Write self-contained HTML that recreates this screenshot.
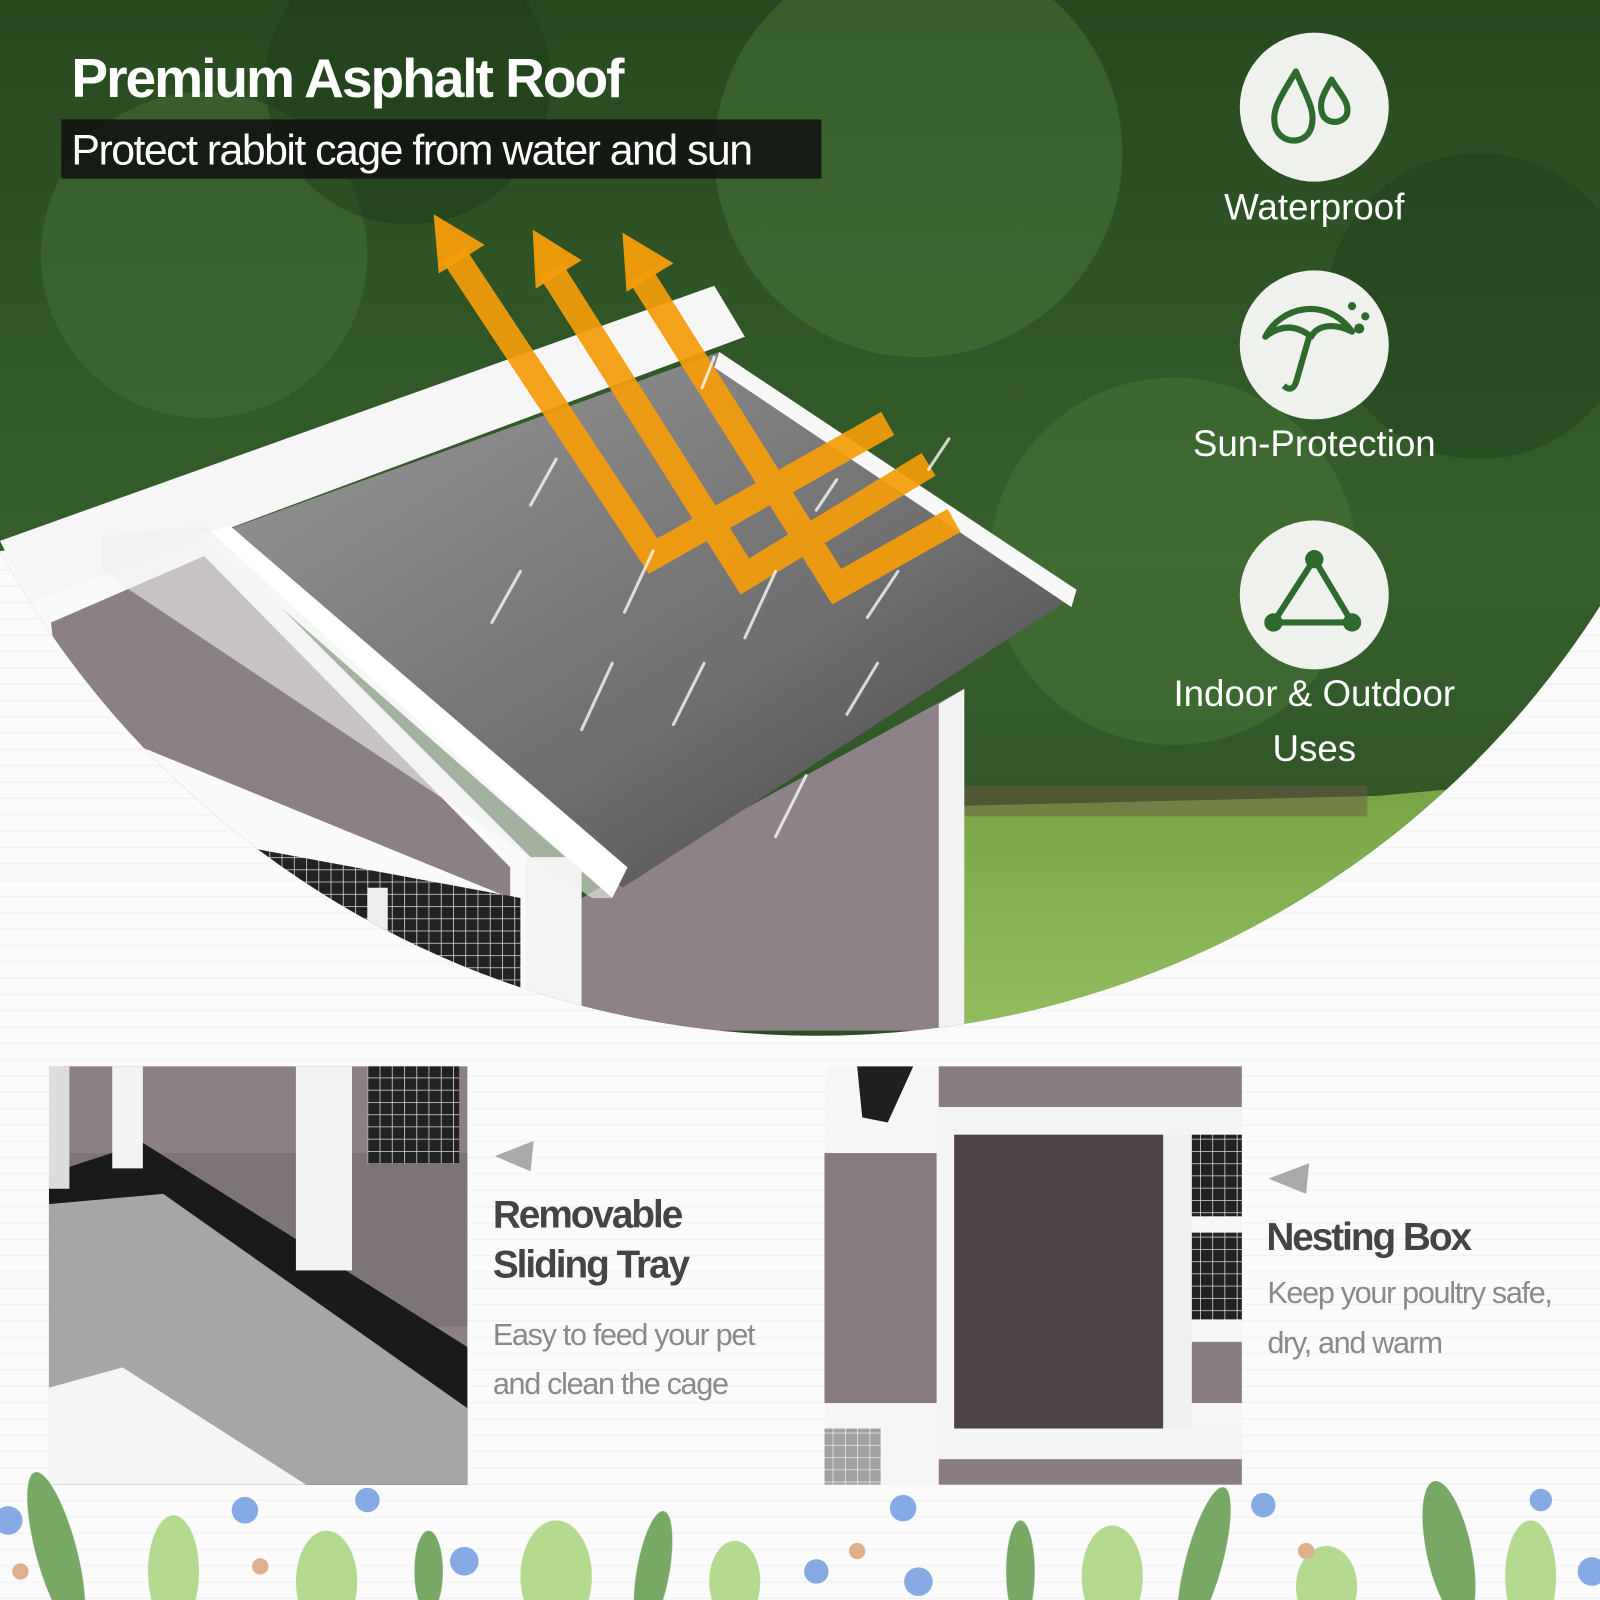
<!DOCTYPE html>
<html><head><meta charset="utf-8"><style>
html,body{margin:0;padding:0;width:1600px;height:1600px;overflow:hidden;background:#fbfbfb}
svg{display:block}
text{font-family:"Liberation Sans",sans-serif}
</style></head><body>
<svg width="1600" height="1600" viewBox="0 0 1568 1568" xmlns="http://www.w3.org/2000/svg">
<defs>
<linearGradient id="forest" x1="0" y1="0" x2="0" y2="1">
<stop offset="0" stop-color="#27491f"/><stop offset="0.5" stop-color="#365f2c"/><stop offset="1" stop-color="#2a4a22"/>
</linearGradient>
<linearGradient id="roof" x1="0" y1="0" x2="1" y2="1">
<stop offset="0" stop-color="#9a9a9a"/><stop offset="0.6" stop-color="#6e6e6e"/><stop offset="1" stop-color="#444"/>
</linearGradient>
<linearGradient id="grass" x1="0" y1="0" x2="0" y2="1">
<stop offset="0" stop-color="#76a444"/><stop offset="1" stop-color="#9cc76a"/>
</linearGradient>
<clipPath id="circ"><circle cx="800" cy="104" r="911"/></clipPath>
<pattern id="lines" width="10" height="16" patternUnits="userSpaceOnUse"><rect width="10" height="16" fill="#fbfbfb"/><rect y="14" width="10" height="1" fill="#f0f0f0"/></pattern>
<pattern id="mesh" width="12" height="12" patternUnits="userSpaceOnUse"><rect width="12" height="12" fill="#222"/><path d="M0 0H12M0 0V12" stroke="#ddd" stroke-width="1.5"/></pattern>
</defs>
<rect width="1568" height="1568" fill="url(#lines)"/>
<g clip-path="url(#circ)">
<rect width="1568" height="1100" fill="url(#forest)"/>
<circle cx="200" cy="250" r="160" fill="#477437" opacity="0.45"/>
<circle cx="900" cy="150" r="200" fill="#4f7f3c" opacity="0.4"/>
<circle cx="1150" cy="550" r="180" fill="#4a7a38" opacity="0.45"/>
<circle cx="400" cy="80" r="140" fill="#1d3b19" opacity="0.5"/>
<circle cx="1450" cy="300" r="150" fill="#1f3d1b" opacity="0.4"/>
<polygon points="930,790 1350,780 1568,760 1568,1100 930,1100" fill="url(#grass)"/>
<rect x="940" y="770" width="400" height="30" fill="#6b5a40" opacity="0.5"/>
<polygon points="0,540 200,520 520,840 520,1100 0,1100" fill="#fafafa"/>
<polygon points="50,610 200,545 500,850 500,880 60,700" fill="#8a8085"/>
<polygon points="240,830 510,880 510,990 240,900" fill="url(#mesh)"/>
<rect x="360" y="870" width="20" height="120" fill="#eee"/>
<polygon points="570,880 945,675 945,1010 570,1010" fill="#8d8287"/>
<polygon points="920,690 945,675 945,1010 920,1010" fill="#f2f2f2"/>
<rect x="515" y="840" width="55" height="170" fill="#f4f4f4"/>
<polygon points="0,530 700,280 730,330 30,590" fill="#f6f6f6"/>
<polygon points="220,520 705,345 1052,585 610,870" fill="url(#roof)"/>
<polygon points="705,345 1055,578 1050,595 700,360" fill="#f8f8f8"/>
<polygon points="195,525 225,515 615,850 600,880" fill="#ffffff"/>
<polygon points="100,525 200,515 600,880 580,880 100,560" fill="#f0f0f0" opacity="0.6"/>
<g stroke="#f59d0a" stroke-width="26" fill="none" opacity="0.92" stroke-linejoin="miter">
<polyline points="445,250 640,545 870,415"/>
<polyline points="540,265 730,565 910,455"/>
<polyline points="628,270 820,575 935,510"/>
</g>
<g fill="#f59d0a" opacity="0.95">
<polygon points="425,210 475,240 430,268"/>
<polygon points="522,225 570,255 525,283"/>
<polygon points="610,228 660,258 614,286"/>
</g>
<g stroke="#ffffff" stroke-width="3" opacity="0.75" stroke-linecap="round">
<line x1="545" y1="450" x2="520" y2="495"/><line x1="510" y1="560" x2="482" y2="610"/>
<line x1="640" y1="540" x2="612" y2="600"/><line x1="760" y1="560" x2="730" y2="625"/>
<line x1="600" y1="650" x2="570" y2="715"/><line x1="690" y1="650" x2="660" y2="710"/>
<line x1="860" y1="650" x2="830" y2="700"/><line x1="880" y1="560" x2="850" y2="605"/>
<line x1="790" y1="760" x2="760" y2="820"/><line x1="700" y1="350" x2="688" y2="380"/>
<line x1="930" y1="430" x2="910" y2="460"/><line x1="820" y1="470" x2="800" y2="500"/>
</g>
<g fill="#eef1ec">
<circle cx="1288" cy="105" r="73"/><circle cx="1288" cy="338" r="73"/><circle cx="1288" cy="583" r="73"/>
</g>
<g fill="none" stroke="#2e6a2e" stroke-width="6" stroke-linejoin="round">
<path d="M1270 70 C1255 95 1245 108 1250 125 C1256 142 1280 142 1285 125 C1290 108 1280 95 1270 70Z"/>
<path d="M1305 78 C1297 92 1292 100 1296 112 C1300 122 1316 122 1320 112 C1323 100 1313 92 1305 78Z"/>
<path d="M1240 330 C1255 300 1300 290 1325 325 C1305 315 1290 320 1285 330 C1270 318 1255 318 1240 330Z"/>
<path d="M1283 330 L1270 375 Q1266 385 1258 378"/>
<path d="M1288 548 L1248 610 L1325 610 Z"/>
</g>
<g fill="#2e6a2e"><circle cx="1288" cy="548" r="9"/><circle cx="1248" cy="610" r="9"/><circle cx="1325" cy="610" r="9"/>
<circle cx="1325" cy="300" r="4"/><circle cx="1338" cy="310" r="4"/><circle cx="1332" cy="322" r="5"/></g>
<g fill="#fff" font-size="36" text-anchor="middle">
<text x="1288" y="215">Waterproof</text>
<text x="1288" y="447">Sun-Protection</text>
<text x="1288" y="692">Indoor &amp; Outdoor</text>
<text x="1288" y="746">Uses</text>
</g>
</g>
<text x="70" y="95" font-size="54" font-weight="bold" fill="#fff" letter-spacing="-2">Premium Asphalt Roof</text>
<rect x="60" y="117" width="745" height="58" fill="#111" opacity="0.85"/>
<text x="70" y="161" font-size="42" fill="#fff" letter-spacing="-1.5">Protect rabbit cage from water and sun</text>
<g>
<rect x="48" y="1045" width="410" height="410" rx="8" fill="#eee"/>
<rect x="60" y="1045" width="398" height="410" fill="#8a8086"/>
<polygon points="48,1130 458,1130 458,1300 48,1300" fill="#7d7479"/>
<polygon points="48,1150 140,1120 458,1320 458,1455 48,1455" fill="#1a1a1a"/>
<polygon points="48,1180 160,1170 458,1380 458,1455 48,1455" fill="#a6a6a6"/>
<polygon points="48,1360 120,1340 300,1455 48,1455" fill="#f5f5f5"/>
<rect x="110" y="1045" width="30" height="100" fill="#f3f3f3"/>
<rect x="290" y="1045" width="55" height="200" fill="#f3f3f3"/>
<rect x="360" y="1045" width="90" height="95" fill="url(#mesh)"/>
<rect x="48" y="1045" width="20" height="120" fill="#ddd"/>
</g>
<polygon points="485,1133 523,1118 520,1148" fill="#aaa"/>
<text x="483" y="1203" font-size="38" font-weight="bold" fill="#444" letter-spacing="-2">Removable</text>
<text x="483" y="1252" font-size="38" font-weight="bold" fill="#444" letter-spacing="-2">Sliding Tray</text>
<text x="483" y="1318" font-size="30" fill="#8a8a8a" letter-spacing="-1.3">Easy to feed your pet</text>
<text x="483" y="1366" font-size="30" fill="#8a8a8a" letter-spacing="-1.3">and clean the cage</text>
<g>
<rect x="808" y="1045" width="409" height="410" rx="8" fill="#f6f6f6"/>
<rect x="920" y="1045" width="297" height="40" fill="#877d82"/>
<rect x="920" y="1085" width="297" height="25" fill="#f4f4f4"/>
<rect x="808" y="1130" width="110" height="245" fill="#857b80"/>
<rect x="935" y="1112" width="205" height="288" fill="#4a4245"/>
<rect x="918" y="1112" width="17" height="300" fill="#f4f4f4"/>
<rect x="1140" y="1112" width="28" height="300" fill="#f0f0f0"/>
<rect x="1168" y="1112" width="49" height="80" fill="url(#mesh)"/>
<rect x="1168" y="1208" width="49" height="85" fill="url(#mesh)"/>
<rect x="1168" y="1315" width="49" height="60" fill="#877d82"/>
<rect x="920" y="1400" width="297" height="30" fill="#f4f4f4"/>
<rect x="920" y="1430" width="297" height="25" fill="#877d82"/>
<polygon points="840,1045 895,1045 870,1100 845,1095" fill="#1f1f1f"/>
<rect x="808" y="1400" width="55" height="55" fill="url(#mesh)" opacity="0.4"/>
</g>
<polygon points="1243,1155 1283,1140 1280,1170" fill="#aaa"/>
<text x="1241" y="1225" font-size="38" font-weight="bold" fill="#444" letter-spacing="-2">Nesting Box</text>
<text x="1242" y="1277" font-size="30" fill="#8a8a8a" letter-spacing="-1.3">Keep your poultry safe,</text>
<text x="1242" y="1326" font-size="30" fill="#8a8a8a" letter-spacing="-1.3">dry, and warm</text>
<g opacity="0.85">
<g fill="#5f9a4a">
<ellipse cx="55" cy="1520" rx="20" ry="80" transform="rotate(-15 55 1520)"/>
<ellipse cx="420" cy="1540" rx="14" ry="40"/>
<ellipse cx="640" cy="1540" rx="16" ry="60" transform="rotate(10 640 1540)"/>
<ellipse cx="1180" cy="1530" rx="18" ry="75" transform="rotate(15 1180 1530)"/>
<ellipse cx="1420" cy="1520" rx="22" ry="70" transform="rotate(-12 1420 1520)"/>
<ellipse cx="1000" cy="1540" rx="14" ry="50"/>
</g>
<g fill="#a6d47a">
<ellipse cx="170" cy="1540" rx="25" ry="55"/>
<ellipse cx="320" cy="1550" rx="30" ry="50"/>
<ellipse cx="545" cy="1545" rx="35" ry="55"/>
<ellipse cx="720" cy="1550" rx="25" ry="40"/>
<ellipse cx="1090" cy="1545" rx="30" ry="50"/>
<ellipse cx="1300" cy="1555" rx="30" ry="40"/>
<ellipse cx="1500" cy="1545" rx="25" ry="55"/>
</g>
<g fill="#6f9be0">
<circle cx="8" cy="1490" r="14"/><circle cx="240" cy="1480" r="13"/><circle cx="360" cy="1470" r="12"/>
<circle cx="455" cy="1530" r="14"/><circle cx="885" cy="1478" r="13"/><circle cx="900" cy="1550" r="14"/>
<circle cx="1238" cy="1475" r="12"/><circle cx="1560" cy="1540" r="14"/><circle cx="800" cy="1540" r="12"/>
<circle cx="1510" cy="1470" r="11"/>
</g>
<g fill="#d9a27a"><circle cx="20" cy="1540" r="8"/><circle cx="255" cy="1535" r="8"/><circle cx="840" cy="1520" r="8"/><circle cx="1280" cy="1520" r="8"/></g>
</g>
</svg>
</body></html>
